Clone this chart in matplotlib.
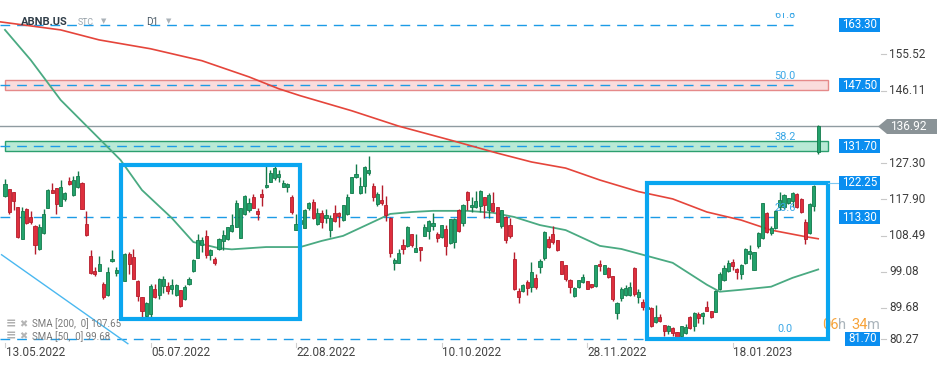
import matplotlib
matplotlib.use("Agg")
import matplotlib.pyplot as plt
from matplotlib.patches import Rectangle, Polygon
from matplotlib.transforms import Bbox
import pandas as pd

plt.rcParams['font.family'] = ['Roboto', 'DejaVu Sans']

# ---------------- data ----------------
opens = [118.8, 120.5, 119.7, 115.8, 107.6, 115.5, 113.2, 110.9, 105.0, 109.2,
         115.7, 120.3, 120.8, 116.2, 118.0, 122.7, 118.9, 121.0, 122.2, 111.6,
         103.1, 99.4, 99.4, 96.0, 93.0, 101.9, 98.8, 102.1, 96.8, 103.8,
         102.9, 96.8, 92.4, 87.5, 88.0, 94.7, 93.1, 95.5, 95.5, 94.65,
         93.09, 94.22, 92.04, 95.78, 99.26, 102.75, 106.14, 108.32, 103.53, 102.31,
         104.92, 107.10, 107.53, 109.62, 110.75, 107.97, 113.97, 115.10, 118.50, 114.84,
         119.28, 121.02, 122.33, 123.37, 123.81, 121.20, 121.20, 118.59, 109.97, 111.5,
         110.49, 115.54, 117.11, 111.45, 114.23, 113.10, 109.88, 114.23, 114.23, 112.49,
         113.97, 119.63, 123.81, 119.46, 121.46, 124.85, 121.37, 116.58, 117.72, 116.41,
         112.93, 101.44, 101.44, 105.97, 105.79, 108.84, 104.22, 105.44, 108.40, 109.79,
         110.93, 108.84, 108.14, 110.06, 106.58, 106.84, 115.10, 111.80, 119.89, 115.80,
         115.80, 116.23, 118.41, 115.10, 117.02, 115.80, 111.02, 113.37, 111.19, 102.49,
         93.96, 94.04, 96.39, 95.09, 97.53, 100.31, 102.66, 107.71, 109.01, 107.27,
         101.79, 100.75, 96.83, 92.91, 95.09, 96.39, 96.57, 95.78, 95.35, 101.18,
         98.57, 100.14, 98.05, 88.30, 92.22, 93.17, 93.17, 100.14, 92.65, 91.35,
         89.5, 89.61, 85.95, 87.26, 85.25, 83.77, 84.47, 83.34, 82.30, 83.08,
         87.26, 85.08, 88.13, 87.52, 90.04, 88.82, 88.56, 94.65, 96.83, 99.18,
         101.53, 99.70, 98.40, 101.36, 103.62, 99.61, 105.71, 107.97, 114.41, 109.27,
         110.32, 115.80, 115.98, 116.85, 117.54, 119.28, 117.98, 111.89, 109.27, 116.15,
         130.1]
highs = [123.1, 120.7, 119.9, 116.0, 116.0, 115.7, 114.9, 111.2, 111.6, 115.3,
         120.5, 122.1, 120.9, 123.0, 119.8, 123.6, 124.0, 125.3, 122.4, 114.8,
         104.8, 100.2, 103.2, 96.4, 100.2, 104.7, 100.2, 102.9, 104.0, 104.1,
         105.1, 97.0, 92.5, 91.1, 95.8, 95.8, 97.5, 97.9, 96.4, 97.26,
         95.96, 94.3, 95.52, 97.70, 102.48, 108.84, 108.14, 109.88, 105.10, 102.92,
         107.8, 109.88, 110.7, 114.06, 117.72, 115.6, 119.02, 118.15, 119.28, 115.54,
         120.50, 126.59, 125.55, 126.42, 125.55, 122.94, 122.24, 119.02, 114.06, 113.2,
         115.28, 117.28, 117.89, 115.54, 115.10, 115.28, 113.80, 116.41, 114.5, 116.4,
         119.28, 123.81, 127.11, 123.81, 126.42, 129.20, 122.07, 119.89, 121.63, 118.76,
         113.36, 102.75, 105.10, 107.71, 110.93, 109.01, 108.84, 105.53, 111.45, 112.49,
         114.23, 109.45, 111.27, 111.19, 112.84, 112.93, 115.28, 116.67, 120.07, 118.59,
         120.15, 120.33, 118.59, 119.46, 119.89, 115.9, 115.2, 113.5, 112.93, 104.23,
         94.91, 95.8, 96.83, 101.53, 98.57, 102.49, 109.62, 108.32, 110.93, 107.45,
         101.9, 100.85, 97.26, 95.09, 97.00, 98.40, 96.65, 95.96, 100.92, 102.23,
         100.92, 100.31, 98.1, 91.17, 95.09, 95.52, 96.39, 100.2, 94.65, 92.04,
         90.5, 89.87, 90.56, 88.13, 85.34, 85.2, 84.64, 83.51, 85.08, 85.51,
         87.52, 88.56, 88.56, 88.6, 91.61, 89.0, 94.39, 99.00, 100.92, 102.23,
         102.31, 100.14, 101.18, 105.27, 105.97, 104.3, 109.4, 117.02, 114.67, 110.93,
         115.11, 119.89, 119.20, 118.33, 119.89, 119.46, 118.15, 112.76, 116.85, 121.63,
         137.2]
lows = [118.6, 114.2, 115.1, 107.9, 107.5, 111.6, 111.6, 103.8, 104.8, 109.0,
        115.6, 119.5, 114.2, 116.1, 117.4, 121.6, 118.8, 120.9, 115.4, 108.3,
        98.4, 98.1, 99.2, 92.0, 92.7, 101.5, 98.1, 94.9, 96.6, 98.6,
        97.1, 91.6, 86.8, 87.2, 86.8, 92.3, 91.9, 93.5, 93.4, 93.35,
        92.91, 89.86, 91.87, 95.52, 99.00, 102.66, 104.22, 102.75, 102.05, 100.74,
        104.66, 104.66, 107.27, 109.45, 110.58, 107.9, 113.9, 114.67, 115.54, 112.49,
        116.15, 120.94, 122.3, 122.94, 122.50, 121.02, 119.89, 113.97, 109.88, 110.4,
        110.32, 115.10, 112.67, 111.19, 110.32, 111.80, 108.14, 112.06, 110.58, 112.32,
        113.80, 119.46, 123.37, 119.28, 119.46, 124.24, 117.54, 116.15, 116.41, 112.32,
        102.92, 99.61, 101.35, 103.79, 105.53, 105.53, 104.1, 101.88, 108.32, 107.71,
        109.88, 106.84, 107.97, 103.53, 106.40, 105.36, 109.45, 110.93, 115.10, 114.67,
        115.54, 114.67, 112.93, 112.93, 114.67, 111.89, 110.32, 106.58, 107.88, 94.39,
        90.91, 93.9, 93.09, 93.78, 94.65, 98.74, 102.23, 105.36, 106.23, 104.40,
        98.40, 96.57, 93.52, 92.65, 94.91, 96.22, 94.48, 94.91, 95.17, 99.27,
        98.40, 97.53, 91.61, 86.82, 91.43, 92.91, 92.91, 92.91, 91.00, 89.17,
        88.5, 84.82, 85.78, 85.95, 82.30, 82.90, 82.30, 81.86, 82.03, 82.90,
        84.12, 83.77, 85.69, 85.51, 88.9, 87.08, 88.5, 94.39, 96.65, 99.00,
        99.44, 97.26, 97.26, 101.01, 102.49, 99.44, 105.27, 107.71, 109.27, 108.58,
        110.06, 115.11, 115.28, 116.67, 115.80, 115.72, 114.41, 106.40, 109.01, 114.93,
        129.7]
closes = [121.9, 114.5, 117.5, 108.1, 114.8, 111.8, 112.1, 106.1, 110.6, 114.2,
          120.3, 119.6, 116.6, 121.2, 119.5, 121.8, 123.0, 124.0, 115.5, 108.5,
          98.8, 98.6, 101.1, 92.5, 99.1, 102.5, 99.6, 95.1, 103.8, 101.2,
          97.3, 92.9, 89.0, 91.0, 95.5, 92.5, 97.3, 97.3, 94.0, 95.70,
          95.70, 90.30, 95.09, 97.26, 102.22, 107.45, 107.45, 103.36, 104.66, 101.44,
          107.71, 108.75, 110.58, 111.10, 116.85, 115.54, 118.85, 116.85, 115.71, 114.06,
          118.59, 121.63, 124.85, 125.98, 124.42, 122.24, 121.89, 114.67, 111.45, 112.4,
          115.10, 116.85, 112.93, 114.23, 112.06, 113.71, 112.93, 112.23, 113.62, 116.32,
          118.41, 123.63, 124.42, 121.37, 126.24, 125.55, 118.59, 119.28, 117.02, 113.80,
          103.96, 102.05, 103.96, 105.01, 110.75, 105.97, 105.36, 104.84, 110.58, 112.23,
          111.62, 107.88, 111.10, 105.79, 112.67, 112.67, 109.71, 116.41, 117.72, 116.41,
          117.46, 120.15, 116.41, 119.02, 114.93, 112.06, 115.11, 107.45, 108.40, 94.65,
          92.48, 95.70, 94.91, 98.92, 95.09, 101.88, 109.36, 105.53, 106.84, 104.66,
          98.57, 97.26, 95.09, 94.91, 96.83, 97.70, 94.65, 95.09, 100.75, 100.57,
          100.75, 97.70, 92.04, 91.00, 94.48, 94.91, 95.09, 93.35, 93.70, 90.04,
          90.0, 84.99, 87.43, 86.21, 83.60, 85.08, 83.08, 82.03, 84.91, 84.82,
          84.38, 88.30, 87.08, 88.47, 89.00, 87.26, 94.04, 98.57, 100.05, 101.44,
          100.49, 99.09, 100.75, 105.10, 104.40, 104.23, 109.27, 116.85, 109.45, 110.32,
          114.85, 117.72, 119.02, 118.15, 119.63, 115.98, 114.67, 107.71, 116.67, 121.37,
          136.92]

holidays = ['2022-05-30', '2022-06-20', '2022-07-04', '2022-09-05', '2022-11-24',
            '2022-12-26', '2023-01-02', '2023-01-16']
dates = pd.bdate_range('2022-05-13', '2023-02-15', freq='C', holidays=holidays)
date_labels = ['13.05.2022', '05.07.2022', '22.08.2022', '10.10.2022', '28.11.2022', '18.01.2023']
price_ticks = [155.52, 146.11, 127.30, 117.90, 108.49, 99.08, 89.68, 80.27]

sma200_idx = [-1.2, 13, 22, 34, 46, 57, 64, 69, 81, 92, 104, 115, 123, 131, 139, 148, 156, 164, 172, 179, 187, 190]
sma200_val = [164.0, 161.9, 159.3, 157.0, 153.9, 149.7, 146.6, 144.8, 140.9, 136.9, 133.3, 129.9,
              127.6, 126.0, 122.9, 119.9, 118.0, 114.6, 112.5, 109.9, 108.2, 107.65]
sma50_idx = [0, 6, 13, 20, 27, 32, 39, 44, 50, 53, 61, 69, 74, 79, 85, 90, 95, 100, 108, 114,
             119, 125, 131, 139, 144, 150, 156, 164, 167, 172, 179, 184, 190]
sma50_val = [161.9, 154.1, 143.7, 135.9, 128.1, 120.3, 113.0, 106.8, 105.2, 104.9, 105.5, 105.5,
             107.1, 108.4, 111.5, 114.1, 114.6, 114.9, 114.9, 114.4, 113.3, 111.2, 109.9, 105.8,
             105.0, 103.2, 101.4, 95.7, 93.9, 94.4, 95.2, 97.5, 99.68]

fib_levels = [81.70, 113.30, 131.70, 147.50, 163.30]
fib_names = ['0.0', '23.6', '38.2', '50.0', '61.8']
level_labels = ['81.70', '113.30', '131.70', '147.50', '163.30', '122.25']
zone_red = (146.3, 148.9)
zone_green = (130.4, 133.0)
box1 = (27.1, 68.9, 86.8, 126.9)
box2 = (150.0, 192.3, 81.70, 122.25)
last_price = 136.92
trend_idx = [-0.8, 28.7]
trend_val = [103.5, 80.4]
legend_texts = ['SMA [200,  0] 107.65', 'SMA [50,  0] 99.68']

# ---------------- layout helpers ----------------
PX, X0 = 4.28, 5.0
YS, Y0PX, Y0P = 3.85, 199.3, 117.9


def xpx(px):
    return (px - X0) / PX


def ypx(py):
    return Y0P + (Y0PX - py) / YS


fig = plt.figure(figsize=(9.49, 3.70), dpi=100)
ax = fig.add_axes([0, 0, 1, 1])
ax.set_xlim(xpx(0), xpx(949))
ax.set_ylim(ypx(370), ypx(0))
ax.axis('off')

FIB_C = '#1c9be6'
BLUE = '#0a8ef0'
BOX_C = '#0aa6f0'

# zones
for (lo, hi), fc, ec in [(zone_red, '#fadcdc', '#e58a8a'), (zone_green, '#b9ead6', '#2c9f6f')]:
    ax.add_patch(Rectangle((-0.1, lo), 192.3, hi - lo, facecolor=fc, edgecolor=ec, lw=1.0, zorder=1))

# fib dashed lines
for lv, nm in zip(fib_levels, fib_names):
    ax.plot([xpx(0), xpx(797)], [lv, lv], color=FIB_C, lw=1.0, ls=(0, (7, 5)), zorder=2)
    t = ax.text(xpx(785), lv + 9.5 / YS, nm, color='#3aa7e6', fontsize=7.8,
                ha='center', va='center', zorder=6)
    t.set_clip_box(Bbox.from_extents(0, 0, 949, 370 - 13))
    t.set_clip_on(True)

# last price line
ax.plot([xpx(0), xpx(878)], [last_price, last_price], color='#8f9ba1', lw=1.0, zorder=2)

# trend line
ax.plot(trend_idx, trend_val, color='#4ab8f0', lw=1.0, zorder=2)

# SMA lines
ax.plot(sma200_idx, sma200_val, color='#e5453b', lw=1.2, zorder=3)
ax.plot(sma50_idx, sma50_val, color='#4aaa82', lw=1.3, zorder=3)

# candles
n = len(closes)
for i in range(n):
    o, h, l, c = opens[i], highs[i], lows[i], closes[i]
    up = c >= o
    fc = '#23a26c' if up else '#de2f3d'
    ec = '#137a4b' if up else '#b51c2b'
    ax.plot([i, i], [l, h], color=ec, lw=1.0, zorder=4, solid_capstyle='butt')
    bot = min(o, c)
    hgt = max(abs(c - o), 0.3)
    ax.add_patch(Rectangle((i - 0.36, bot), 0.72, hgt, facecolor=fc, edgecolor=ec, lw=0.6, zorder=4))

# blue boxes
for (a, b, lo, hi) in [box1, box2]:
    ax.add_patch(Rectangle((a, lo), b - a, hi - lo, facecolor='none', edgecolor=BOX_C, lw=3.0, zorder=5))
ax.plot([box2[1], xpx(839)], [box2[3], box2[3]], color='#7cc8f2', lw=0.8, zorder=5)

# right blue price labels
for lv, txt in zip([81.70, 113.30, 131.70, 147.50, 163.30, 122.25], level_labels):
    w = 41 if len(txt) == 6 else 35
    hh = 14 / YS
    ax.add_patch(Rectangle((xpx(880 - w), lv - hh / 2), xpx(880) - xpx(880 - w), hh,
                           facecolor=BLUE, edgecolor='none', zorder=6))
    ax.text(xpx(880 - w / 2), lv, txt, color='white', fontsize=8.3, ha='center', va='center', zorder=7)

# last price arrow label
pts = [(878, 126.5), (887, 119), (937, 119), (937, 134), (887, 134)]
ax.add_patch(Polygon([(xpx(x), ypx(y)) for x, y in pts], closed=True, facecolor='#8a9397',
                     edgecolor='none', zorder=6))
ax.text(xpx(908), last_price, f'{last_price:.2f}', color='white', fontsize=8.6,
        ha='center', va='center', zorder=7)

# price axis
for p in price_ticks:
    yy = p if p > 81 else ypx(339.5)
    ax.plot([xpx(881), xpx(886)], [yy, yy], color='#c8c8c8', lw=0.8)
    ax.text(xpx(889), yy, f'{p:.2f}', color='#3d3d3d', fontsize=8.5, ha='left', va='center')

# date axis
for lab in date_labels:
    d = pd.Timestamp(pd.to_datetime(lab, format='%d.%m.%Y'))
    idx = dates.get_loc(d)
    ax.plot([idx, idx], [ypx(343), ypx(347)], color='#d0d0d0', lw=0.8)
    ax.text(idx + 0.2, ypx(352.5), lab, color='#444444', fontsize=8.5, ha='left', va='center')

# header
ax.text(xpx(20.5), ypx(22), 'ABNB.US', color='#2f3d48', fontsize=8, fontweight='bold', ha='left', va='center')
ax.text(xpx(78), ypx(22.5), 'STC', color='#9aa4ab', fontsize=6.3, ha='left', va='center')
ax.text(xpx(104), ypx(21), '\u25BC', color='#aab2b8', fontsize=5, ha='center', va='center',
        family=['DejaVu Sans'])
ax.text(xpx(146), ypx(22.5), 'D1', color='#4a5a66', fontsize=7.2, ha='left', va='center')
ax.text(xpx(168.5), ypx(21), '\u25BC', color='#aab2b8', fontsize=5, ha='center', va='center',
        family=['DejaVu Sans'])

# legend
for k, txt in enumerate(legend_texts):
    yy = ypx(324 + 12.5 * k)
    ax.text(xpx(6), yy, '\u2261', color='#b0b0b0', fontsize=9, fontweight='bold', ha='left',
            va='center', family=['DejaVu Sans'])
    ax.text(xpx(19.5), yy, '\u2716', color='#b5b5b5', fontsize=7, ha='left', va='center',
            family=['DejaVu Sans'])
    ax.text(xpx(31.5), yy, txt, color='#7a7a7a', fontsize=7, ha='left', va='center')

# countdown
for xx, txt, col in [(822, '06', '#f7a33a'), (838, 'h', '#aab4bb'), (851, '34', '#f7a33a'), (867, 'm', '#aab4bb')]:
    ax.text(xpx(xx), ypx(325), txt, color=col, fontsize=10.5, ha='left', va='center')

fig.savefig('out.png', dpi=100)
